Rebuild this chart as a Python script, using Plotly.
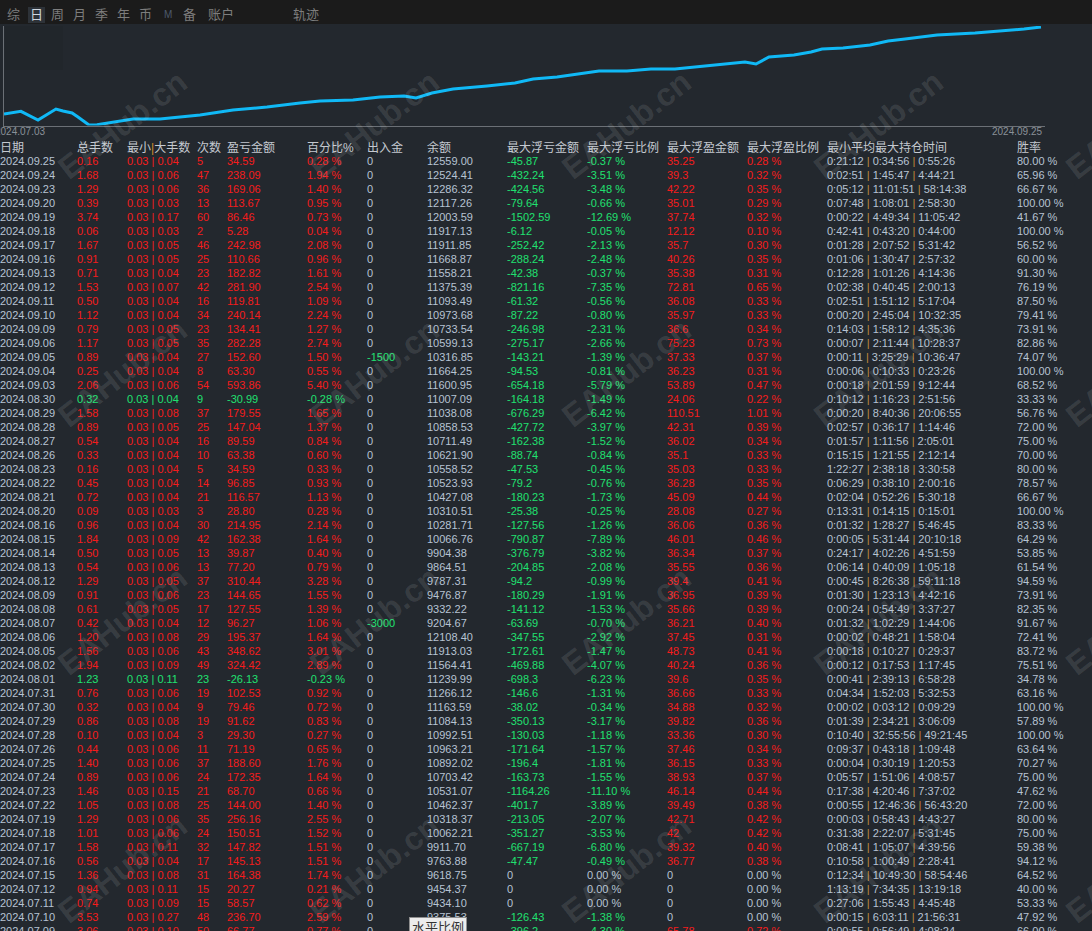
import plotly.graph_objects as go

# equity curve: day offset from 2024.07.03 and balance
curve_day = [0.0, 1.37, 2.75, 4.20, 4.77, 5.50, 5.98, 6.87, 7.52, 10.43,
             12.61, 15.85, 18.51, 21.26, 23.93, 25.55, 28.21, 30.40, 32.34, 33.31,
             34.60, 36.30, 39.05, 41.31, 42.77, 44.71, 46.40, 48.10, 50.36, 52.30,
             54.24, 55.94, 57.64, 59.10, 59.90, 60.79, 61.84, 63.86, 65.24, 66.13,
             67.83, 70.01, 71.47, 72.84, 75.43, 78.50, 80.76, 82.46, 83.83]
curve_equity = [9800, 10016, 9320, 10200, 10040, 9880, 9560, 8920, 8944, 9400,
                9400, 9720, 10120, 10360, 10680, 10840, 10920, 11160, 11240, 11080,
                11480, 11800, 12040, 12280, 12600, 12760, 13000, 13240, 13240, 13400,
                13400, 13560, 13720, 13880, 13960, 13800, 14360, 14520, 14760, 15000,
                15080, 15320, 15640, 15800, 16120, 16280, 16440, 16600, 16760]
curve_start_label = "2024.07.03"
curve_end_label = "2024.09.25"

tabs = ["综", "日", "周", "月", "季", "年", "币", "M", "备", "账户", "轨迹"]

headers = ["日期", "总手数", "最小|大手数", "次数", "盈亏金额", "百分比%", "出入金", "余额",
           "最大浮亏金额", "最大浮亏比例", "最大浮盈金额", "最大浮盈比例", "最小平均最大持仓时间", "胜率"]

dates = ["2024.09.25", "2024.09.24", "2024.09.23", "2024.09.20", "2024.09.19", "2024.09.18",
         "2024.09.17", "2024.09.16", "2024.09.13", "2024.09.12", "2024.09.11", "2024.09.10",
         "2024.09.09", "2024.09.06", "2024.09.05", "2024.09.04", "2024.09.03", "2024.08.30",
         "2024.08.29", "2024.08.28", "2024.08.27", "2024.08.26", "2024.08.23", "2024.08.22",
         "2024.08.21", "2024.08.20", "2024.08.16", "2024.08.15", "2024.08.14", "2024.08.13",
         "2024.08.12", "2024.08.09", "2024.08.08", "2024.08.07", "2024.08.06", "2024.08.05",
         "2024.08.02", "2024.08.01", "2024.07.31", "2024.07.30", "2024.07.29", "2024.07.28",
         "2024.07.26", "2024.07.25", "2024.07.24", "2024.07.23", "2024.07.22", "2024.07.19",
         "2024.07.18", "2024.07.17", "2024.07.16", "2024.07.15", "2024.07.12", "2024.07.11",
         "2024.07.10", "2024.07.09"]
total_lots = [0.16, 1.68, 1.29, 0.39, 3.74, 0.06, 1.67, 0.91, 0.71, 1.53, 0.50, 1.12,
              0.79, 1.17, 0.89, 0.25, 2.06, 0.32, 1.58, 0.89, 0.54, 0.33, 0.16, 0.45,
              0.72, 0.09, 0.96, 1.84, 0.50, 0.54, 1.29, 0.91, 0.61, 0.42, 1.20, 1.56,
              1.94, 1.23, 0.76, 0.32, 0.86, 0.10, 0.44, 1.40, 0.89, 1.46, 1.05, 1.29,
              1.01, 1.58, 0.56, 1.36, 0.94, 0.74, 3.53, 3.06]
lot_min = [0.03, 0.03, 0.03, 0.03, 0.03, 0.03, 0.03, 0.03, 0.03, 0.03, 0.03, 0.03,
           0.03, 0.03, 0.03, 0.03, 0.03, 0.03, 0.03, 0.03, 0.03, 0.03, 0.03, 0.03,
           0.03, 0.03, 0.03, 0.03, 0.03, 0.03, 0.03, 0.03, 0.03, 0.03, 0.03, 0.03,
           0.03, 0.03, 0.03, 0.03, 0.03, 0.03, 0.03, 0.03, 0.03, 0.03, 0.03, 0.03,
           0.03, 0.03, 0.03, 0.03, 0.03, 0.03, 0.03, 0.03]
lot_max = [0.04, 0.06, 0.06, 0.03, 0.17, 0.03, 0.05, 0.05, 0.04, 0.07, 0.04, 0.04,
           0.05, 0.05, 0.04, 0.04, 0.06, 0.04, 0.08, 0.05, 0.04, 0.04, 0.04, 0.04,
           0.04, 0.03, 0.04, 0.09, 0.05, 0.06, 0.05, 0.06, 0.05, 0.04, 0.08, 0.06,
           0.09, 0.11, 0.06, 0.04, 0.08, 0.04, 0.06, 0.06, 0.06, 0.15, 0.08, 0.06,
           0.06, 0.11, 0.04, 0.08, 0.11, 0.09, 0.27, 0.10]
trades = [5, 47, 36, 13, 60, 2, 46, 25, 23, 42, 16, 34,
          23, 35, 27, 8, 54, 9, 37, 25, 16, 10, 5, 14,
          21, 3, 30, 42, 13, 13, 37, 23, 17, 12, 29, 43,
          49, 23, 19, 9, 19, 3, 11, 37, 24, 21, 25, 35,
          24, 32, 17, 31, 15, 15, 48, 50]
pnl = [34.59, 238.09, 169.06, 113.67, 86.46, 5.28, 242.98, 110.66, 182.82, 281.90, 119.81, 240.14,
       134.41, 282.28, 152.60, 63.30, 593.86, -30.99, 179.55, 147.04, 89.59, 63.38, 34.59, 96.85,
       116.57, 28.80, 214.95, 162.38, 39.87, 77.20, 310.44, 144.65, 127.55, 96.27, 195.37, 348.62,
       324.42, -26.13, 102.53, 79.46, 91.62, 29.30, 71.19, 188.60, 172.35, 68.70, 144.00, 256.16,
       150.51, 147.82, 145.13, 164.38, 20.27, 58.57, 236.70, 66.77]
pnl_pct = [0.28, 1.94, 1.40, 0.95, 0.73, 0.04, 2.08, 0.96, 1.61, 2.54, 1.09, 2.24,
           1.27, 2.74, 1.50, 0.55, 5.40, -0.28, 1.65, 1.37, 0.84, 0.60, 0.33, 0.93,
           1.13, 0.28, 2.14, 1.64, 0.40, 0.79, 3.28, 1.55, 1.39, 1.06, 1.64, 3.01,
           2.89, -0.23, 0.92, 0.72, 0.83, 0.27, 0.65, 1.76, 1.64, 0.66, 1.40, 2.55,
           1.52, 1.51, 1.51, 1.74, 0.21, 0.62, 2.59, 0.77]
cash_flow = [0, 0, 0, 0, 0, 0, 0, 0, 0, 0, 0, 0,
             0, 0, -1500, 0, 0, 0, 0, 0, 0, 0, 0, 0,
             0, 0, 0, 0, 0, 0, 0, 0, 0, -3000, 0, 0,
             0, 0, 0, 0, 0, 0, 0, 0, 0, 0, 0, 0,
             0, 0, 0, 0, 0, 0, 0, 0]
balance = [12559.00, 12524.41, 12286.32, 12117.26, 12003.59, 11917.13, 11911.85, 11668.87,
           11558.21, 11375.39, 11093.49, 10973.68, 10733.54, 10599.13, 10316.85, 11664.25,
           11600.95, 11007.09, 11038.08, 10858.53, 10711.49, 10621.90, 10558.52, 10523.93,
           10427.08, 10310.51, 10281.71, 10066.76, 9904.38, 9864.51, 9787.31, 9476.87,
           9332.22, 9204.67, 12108.40, 11913.03, 11564.41, 11239.99, 11266.12, 11163.59,
           11084.13, 10992.51, 10963.21, 10892.02, 10703.42, 10531.07, 10462.37, 10318.37,
           10062.21, 9911.70, 9763.88, 9618.75, 9454.37, 9434.10, 9375.53, 9138.83]
max_float_loss = [-45.87, -432.24, -424.56, -79.64, -1502.59, -6.12, -252.42, -288.24, -42.38, -821.16,
                  -61.32, -87.22, -246.98, -275.17, -143.21, -94.53, -654.18, -164.18, -676.29, -427.72,
                  -162.38, -88.74, -47.53, -79.2, -180.23, -25.38, -127.56, -790.87, -376.79, -204.85,
                  -94.2, -180.29, -141.12, -63.69, -347.55, -172.61, -469.88, -698.3, -146.6, -38.02,
                  -350.13, -130.03, -171.64, -196.4, -163.73, -1164.26, -401.7, -213.05, -351.27, -667.19,
                  -47.47, 0, 0, 0, -126.43, -396.2]
max_float_loss_pct = [-0.37, -3.51, -3.48, -0.66, -12.69, -0.05, -2.13, -2.48, -0.37, -7.35,
                      -0.56, -0.80, -2.31, -2.66, -1.39, -0.81, -5.79, -1.49, -6.42, -3.97,
                      -1.52, -0.84, -0.45, -0.76, -1.73, -0.25, -1.26, -7.89, -3.82, -2.08,
                      -0.99, -1.91, -1.53, -0.70, -2.92, -1.47, -4.07, -6.23, -1.31, -0.34,
                      -3.17, -1.18, -1.57, -1.81, -1.55, -11.10, -3.89, -2.07, -3.53, -6.80,
                      -0.49, 0.00, 0.00, 0.00, -1.38, -4.30]
max_float_profit = [35.25, 39.3, 42.22, 35.01, 37.74, 12.12, 35.7, 40.26, 35.38, 72.81,
                    36.08, 35.97, 36.6, 75.23, 37.33, 36.23, 53.89, 24.06, 110.51, 42.31,
                    36.02, 35.1, 35.03, 36.28, 45.09, 28.08, 36.06, 46.01, 36.34, 35.55,
                    39.4, 36.95, 35.66, 36.21, 37.45, 48.73, 40.24, 39.6, 36.66, 34.88,
                    39.82, 33.36, 37.46, 36.15, 38.93, 46.14, 39.49, 42.71, 42, 39.32,
                    36.77, 0, 0, 0, 0, 65.78]
max_float_profit_pct = [0.28, 0.32, 0.35, 0.29, 0.32, 0.10, 0.30, 0.35, 0.31, 0.65,
                        0.33, 0.33, 0.34, 0.73, 0.37, 0.31, 0.47, 0.22, 1.01, 0.39,
                        0.34, 0.33, 0.33, 0.35, 0.44, 0.27, 0.36, 0.46, 0.37, 0.36,
                        0.41, 0.39, 0.39, 0.40, 0.31, 0.41, 0.36, 0.35, 0.33, 0.32,
                        0.36, 0.30, 0.34, 0.33, 0.37, 0.44, 0.38, 0.42, 0.42, 0.40,
                        0.38, 0.00, 0.00, 0.00, 0.00, 0.72]
hold_times = ["0:21:12|0:34:56|0:55:26", "0:02:51|1:45:47|4:44:21", "0:05:12|11:01:51|58:14:38",
              "0:07:48|1:08:01|2:58:30", "0:00:22|4:49:34|11:05:42", "0:42:41|0:43:20|0:44:00",
              "0:01:28|2:07:52|5:31:42", "0:01:06|1:30:47|2:57:32", "0:12:28|1:01:26|4:14:36",
              "0:02:38|0:40:45|2:00:13", "0:02:51|1:51:12|5:17:04", "0:00:20|2:45:04|10:32:35",
              "0:14:03|1:58:12|4:35:36", "0:00:07|2:11:44|10:28:37", "0:00:11|3:25:29|10:36:47",
              "0:00:06|0:10:33|0:23:26", "0:00:18|2:01:59|9:12:44", "0:10:12|1:16:23|2:51:56",
              "0:00:20|8:40:36|20:06:55", "0:02:57|0:36:17|1:14:46", "0:01:57|1:11:56|2:05:01",
              "0:15:15|1:21:55|2:12:14", "1:22:27|2:38:18|3:30:58", "0:06:29|0:38:10|2:00:16",
              "0:02:04|0:52:26|5:30:18", "0:13:31|0:14:15|0:15:01", "0:01:32|1:28:27|5:46:45",
              "0:00:05|5:31:44|20:10:18", "0:24:17|4:02:26|4:51:59", "0:06:14|0:40:09|1:05:18",
              "0:00:45|8:26:38|59:11:18", "0:01:30|1:23:13|4:42:16", "0:00:24|0:54:49|3:37:27",
              "0:01:32|1:02:29|1:44:06", "0:00:02|0:48:21|1:58:04", "0:00:18|0:10:27|0:29:37",
              "0:00:12|0:17:53|1:17:45", "0:00:41|2:39:13|6:58:28", "0:04:34|1:52:03|5:32:53",
              "0:00:02|0:03:12|0:09:29", "0:01:39|2:34:21|3:06:09", "0:10:40|32:55:56|49:21:45",
              "0:09:37|0:43:18|1:09:48", "0:00:04|0:30:19|1:20:53", "0:05:57|1:51:06|4:08:57",
              "0:17:38|4:20:46|7:37:02", "0:00:55|12:46:36|56:43:20", "0:00:03|0:58:43|4:43:27",
              "0:31:38|2:22:07|5:31:45", "0:08:41|1:05:07|4:39:56", "0:10:58|1:00:49|2:28:41",
              "0:12:34|10:49:30|58:54:46", "1:13:19|7:34:35|13:19:18", "0:27:06|1:55:43|4:45:48",
              "0:00:15|6:03:11|21:56:31", "0:00:55|0:56:49|4:08:24"]
win_rate = [80.00, 65.96, 66.67, 100.00, 41.67, 100.00, 56.52, 60.00, 91.30, 76.19, 87.50, 79.41,
            73.91, 82.86, 74.07, 100.00, 68.52, 33.33, 56.76, 72.00, 75.00, 70.00, 80.00, 78.57,
            66.67, 100.00, 83.33, 64.29, 53.85, 61.54, 94.59, 73.91, 82.35, 91.67, 72.41, 83.72,
            75.51, 34.78, 63.16, 100.00, 57.89, 100.00, 63.64, 70.27, 75.00, 47.62, 72.00, 80.00,
            75.00, 59.38, 94.12, 64.52, 40.00, 53.33, 47.92, 66.00]

W, H = 1092, 931
BG = "#23282e"
RED = "#f51c1c"
GREEN = "#20e070"
LIGHT = "#b7c3d3"
HEADER_COLOR = "#c4c9d0"
BAR_COLOR = "#c08c3c"
FONT = "Liberation Sans, Noto Sans CJK SC, sans-serif"

# left edge of each table column, in pixels
col_x = [0, 77, 127, 197, 227, 307, 367, 427, 507, 587, 667, 747, 827, 1017]
table_top_px = 137
row_top_px = 156.5   # top of the first body row's text box
row_px = 14


def px_x(x):
    return x / W


def px_y(y):
    return 1 - y / H


def trim(v):
    return f"{v:.2f}".rstrip("0").rstrip(".")


def main():
    n = len(dates)
    for col in [total_lots, lot_min, lot_max, trades, pnl, pnl_pct, cash_flow, balance, max_float_loss,
                max_float_loss_pct, max_float_profit, max_float_profit_pct, hold_times, win_rate]:
        assert len(col) == n

    sign_color = [RED if v >= 0 else GREEN for v in pnl]
    bar = f"<span style='color:{BAR_COLOR}'>|</span>"

    columns = [
        (dates, [LIGHT] * n),
        ([f"{v:.2f}" for v in total_lots], sign_color),
        ([f"{a:.2f} | {b:.2f}" for a, b in zip(lot_min, lot_max)], sign_color),
        ([str(v) for v in trades], sign_color),
        ([f"{v:.2f}" for v in pnl], sign_color),
        ([f"{v:.2f} %" for v in pnl_pct], sign_color),
        ([str(v) for v in cash_flow], [GREEN if v < 0 else LIGHT for v in cash_flow]),
        ([f"{v:.2f}" for v in balance], [LIGHT] * n),
        ([trim(v) for v in max_float_loss], [GREEN if v < 0 else LIGHT for v in max_float_loss]),
        ([f"{v:.2f} %" for v in max_float_loss_pct], [GREEN if v < 0 else LIGHT for v in max_float_loss_pct]),
        ([trim(v) for v in max_float_profit], [RED if v > 0 else LIGHT for v in max_float_profit]),
        ([f"{v:.2f} %" for v in max_float_profit_pct], [RED if v > 0 else LIGHT for v in max_float_profit_pct]),
        ([f" {bar} ".join(t.split("|")) for t in hold_times], [LIGHT] * n),
        ([f"{v:.2f} %" for v in win_rate], [LIGHT] * n),
    ]

    fig = go.Figure()

    # equity curve
    fig.add_trace(go.Scatter(
        x=curve_day, y=curve_equity, mode="lines",
        line=dict(color="#10b9f6", width=3),
        hoverinfo="skip", xaxis="x", yaxis="y",
    ))

    # table body, one text trace per column; text hangs below its row index
    rows = list(range(n))
    for cx, (texts, colors) in zip(col_x, columns):
        fig.add_trace(go.Scatter(
            x=[cx] * n, y=rows, mode="text", text=texts,
            textposition="bottom right",
            textfont=dict(family=FONT, size=11, color=colors),
            cliponaxis=False, hoverinfo="skip", xaxis="x2", yaxis="y2",
        ))

    header_texts = [h.replace("|", "<span style='color:#d08a28'>|</span>") for h in headers]
    fig.add_trace(go.Scatter(
        x=col_x, y=[-1] * len(headers), mode="text", text=header_texts,
        textposition="bottom right",
        textfont=dict(family=FONT, size=12, color=HEADER_COLOR),
        cliponaxis=False, hoverinfo="skip", xaxis="x2", yaxis="y2",
    ))

    # row index -> pixel mapping for the table axis
    top_idx = (table_top_px - row_top_px) / row_px
    bottom_idx = (H - row_top_px) / row_px

    shapes = [
        dict(type="rect", xref="paper", yref="paper", x0=0, x1=1, y0=px_y(24), y1=1,
             fillcolor="#1b1b1b", line=dict(width=0), layer="below"),
        dict(type="rect", xref="paper", yref="paper", x0=px_x(28), x1=px_x(45), y0=px_y(23), y1=px_y(7),
             fillcolor="#2d3238", line=dict(width=0), layer="below"),
        dict(type="rect", xref="paper", yref="paper", x0=px_x(5), x1=px_x(63), y0=px_y(70), y1=px_y(26),
             fillcolor="#21262b", line=dict(width=0), layer="below"),
    ]

    annotations = []
    tab_x = [13, 36, 57, 79, 101, 123, 145, 168, 189, 221, 306]
    for t, tx in zip(tabs, tab_x):
        color = "#cfd6de" if t == "日" else "#7d7d7d"
        if t == "M":
            color = "#4d5a6b"
        annotations.append(dict(
            text=t, x=px_x(tx), y=px_y(15), xref="paper", yref="paper",
            xanchor="center", yanchor="middle",
            showarrow=False, font=dict(family=FONT, size=13 if t != "M" else 10, color=color),
        ))

    annotations.append(dict(
        text=curve_start_label, x=curve_day[0], y=px_y(131), xref="x", yref="paper",
        xanchor="left", yanchor="middle", xshift=-11, showarrow=False,
        font=dict(family=FONT, size=10, color="#8a9098"),
    ))
    annotations.append(dict(
        text=curve_end_label, x=curve_day[-1], y=px_y(131), xref="x", yref="paper",
        xanchor="right", yanchor="middle", xshift=3, showarrow=False,
        font=dict(family=FONT, size=10, color="#8a9098"),
    ))

    # watermark grid
    for wy in [125, 373, 621, 869]:
        for wx in [122, 374, 626, 878, 1130]:
            annotations.append(dict(
                text="<b>EAHub.cn</b>", x=px_x(wx), y=px_y(wy), xref="paper", yref="paper",
                xanchor="center", yanchor="middle", showarrow=False, textangle=-38,
                font=dict(family="Liberation Sans", size=32, color="rgba(255,255,255,0.11)"),
            ))

    # tooltip box at the bottom
    annotations.append(dict(
        text="水平比例", x=px_x(438), y=px_y(927), xref="paper", yref="paper",
        xanchor="center", yanchor="middle",
        showarrow=False, bgcolor="#ececec", bordercolor="#8f8f8f", borderwidth=1, borderpad=2,
        font=dict(family=FONT, size=13, color="#333333"),
    ))

    fig.update_layout(
        width=W, height=H,
        margin=dict(l=0, r=0, t=0, b=0),
        paper_bgcolor=BG, plot_bgcolor=BG,
        showlegend=False,
        xaxis=dict(domain=[px_x(4), px_x(1045)], range=[0, (1045 - 4) / 12.37],
                   showgrid=False, zeroline=False, showticklabels=False, ticks="",
                   showline=True, linecolor="#6b7076", linewidth=1, fixedrange=True),
        yaxis=dict(domain=[px_y(125.5), px_y(26)], range=[8880, 16840],
                   showgrid=False, zeroline=False, showticklabels=False, ticks="",
                   showline=True, linecolor="#6b7076", linewidth=1, fixedrange=True),
        xaxis2=dict(domain=[0, 1], range=[0, W], visible=False, anchor="y2", fixedrange=True),
        yaxis2=dict(domain=[0, px_y(table_top_px)], range=[bottom_idx, top_idx], visible=False,
                    anchor="x2", fixedrange=True),
        shapes=shapes,
        annotations=annotations,
    )

    # drop the default page margin so the figure fills the window
    fig.write_html("out.html", config={"displayModeBar": False},
                   post_script="document.body.style.margin = '0';")


if __name__ == "__main__":
    main()
